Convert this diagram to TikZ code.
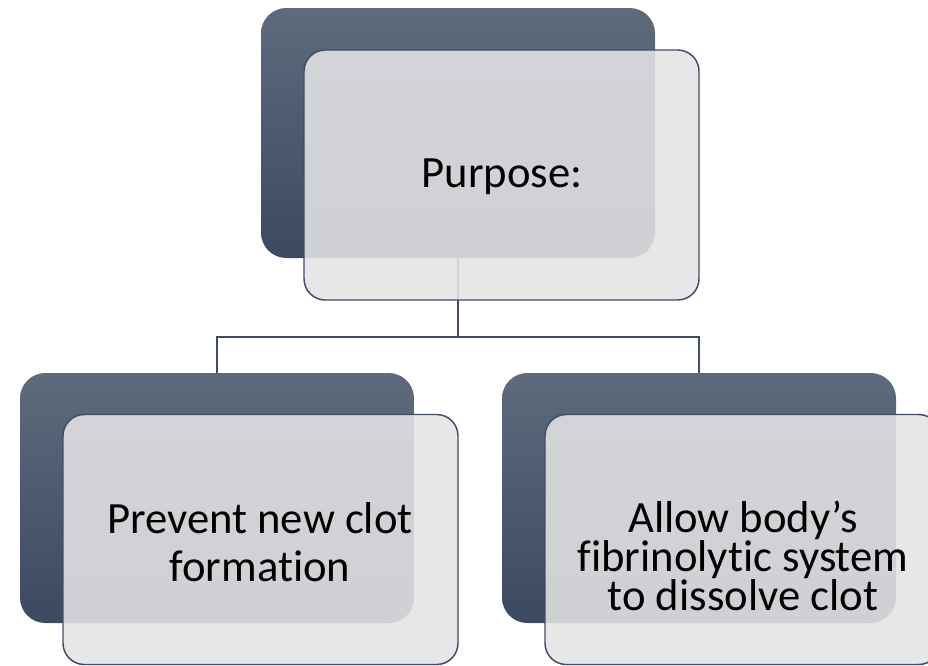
\documentclass[tikz,border=0pt]{standalone}
\usepackage{fontspec}
\setmainfont{Carlito}[Ligatures=NoCommon]
\definecolor{darktop}{HTML}{5F6A7C}
\definecolor{darkbot}{HTML}{3B4961}
\definecolor{lightfill}{RGB}{228,228,229}
\definecolor{edge}{HTML}{3F4E66}
\begin{document}
\begin{tikzpicture}[x=0.75pt,y=-0.75pt,
  darkbox/.style={rectangle, rounded corners=19pt, inner sep=0pt, outer sep=0pt,
    minimum width=295.5pt, minimum height=187.5pt, top color=darktop, bottom color=darkbot},
  lightbox/.style={rectangle, rounded corners=16pt, inner sep=0pt, outer sep=0pt,
    minimum width=296.25pt, minimum height=187.5pt, fill=lightfill, fill opacity=0.88,
    draw=edge, line width=1.1pt},
  lbl/.style={align=center, text=black, font=\fontsize{33.5}{36}\selectfont},
  conn/.style={draw=edge, line width=1.1pt}]
\useasboundingbox (0,0) rectangle (928,665);
% dark back boxes
\node[darkbox] (d1) at (458,133) {};
\node[darkbox] (d2) at (217,498) {};
\node[darkbox] (d3) at (699,498) {};
% connectors
\coordinate (j) at (458,337);
\draw[conn] (d1.south) -- (j) -| (d2.north);
\draw[conn] (j) -| (d3.north);
% light front boxes
\node[lightbox] (l1) at (501.5,175) {};
\node[lightbox] (l2) at (260.5,539.5) {};
\node[lightbox] (l3) at (742.5,539.5) {};
% texts
\node[lbl] (t1) at (502,177) {Purpose:};
\node[lbl] (t2) at (260,542) {Prevent new clot\\formation};
\node[lbl, font=\fontsize{33.5}{29}\selectfont] (t3) at (743,556) {Allow body’s\\fibrinolytic system\\to dissolve clot};
\end{tikzpicture}
\end{document}
